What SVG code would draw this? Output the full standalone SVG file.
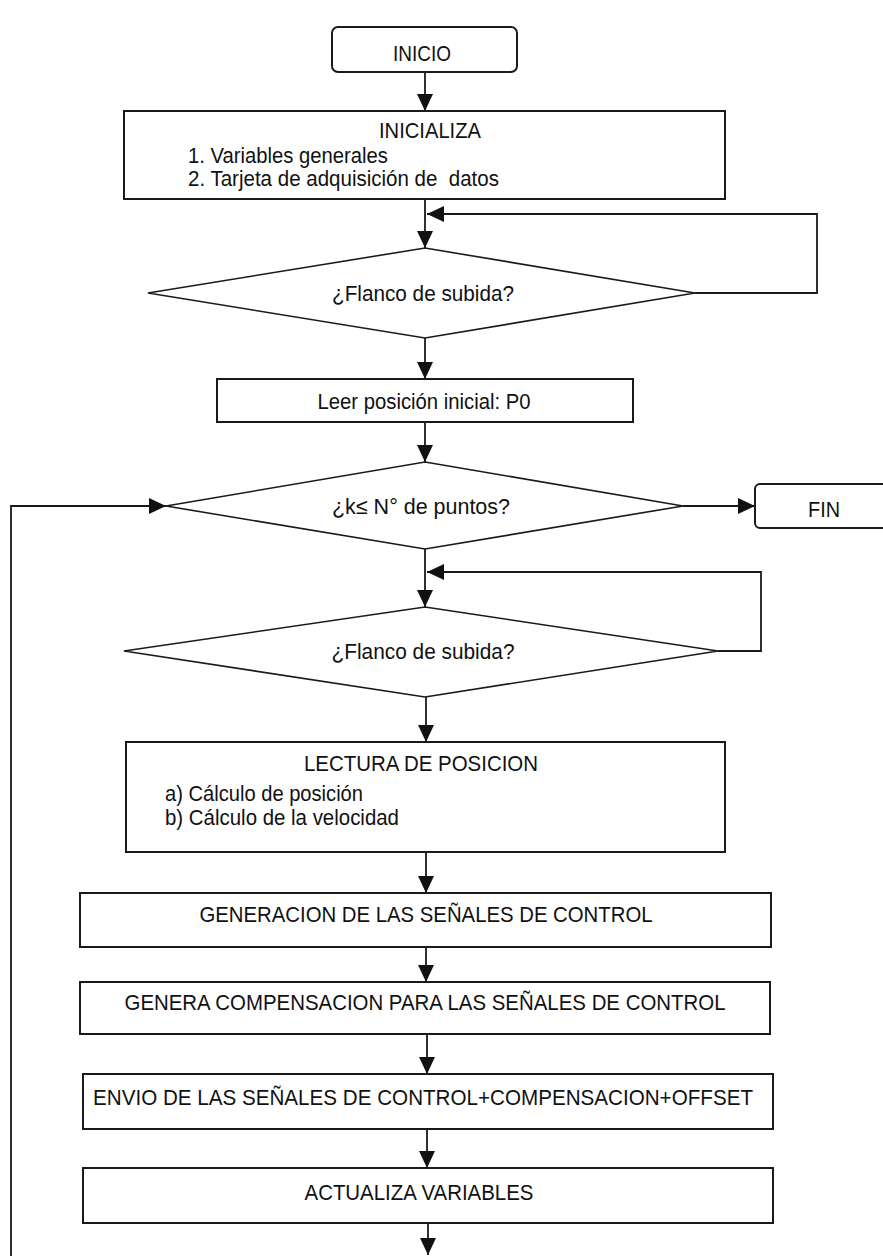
<svg xmlns="http://www.w3.org/2000/svg" width="883" height="1256" viewBox="0 0 883 1256">
<style>
.box{fill:#fff;stroke:#1a1a1a;stroke-width:2}
.dia{fill:#fff;stroke:#1a1a1a;stroke-width:1.6}
.t{font-family:"Liberation Sans",Arial,sans-serif;font-size:22px;fill:#111}
.c{text-anchor:middle}
.con{fill:none;stroke:#1a1a1a;stroke-width:1.8}
</style>
<defs>
<marker id="ah" markerUnits="userSpaceOnUse" markerWidth="18" markerHeight="16" refX="17" refY="8" orient="auto">
<path d="M0,0 L17,8 L0,16 Z" fill="#111"/>
</marker>
</defs>
<rect width="883" height="1256" fill="#fff"/>
<g id="connectors">
<line class="con" x1="425" y1="72" x2="425" y2="111" marker-end="url(#ah)"/>
<line class="con" x1="425" y1="199" x2="425" y2="248" marker-end="url(#ah)"/>
<polyline class="con" points="695,293 817,293 817,214 427,214" marker-end="url(#ah)"/>
<line class="con" x1="425" y1="338" x2="425" y2="379" marker-end="url(#ah)"/>
<line class="con" x1="425" y1="422" x2="425" y2="462" marker-end="url(#ah)"/>
<line class="con" x1="683" y1="506" x2="755" y2="506" marker-end="url(#ah)"/>
<line class="con" x1="425" y1="549" x2="425" y2="607" marker-end="url(#ah)"/>
<polyline class="con" points="718,651 761,651 761,572 427,572" marker-end="url(#ah)"/>
<line class="con" x1="426" y1="697" x2="426" y2="742" marker-end="url(#ah)"/>
<line class="con" x1="426" y1="852" x2="426" y2="893" marker-end="url(#ah)"/>
<line class="con" x1="426" y1="947" x2="426" y2="982" marker-end="url(#ah)"/>
<line class="con" x1="427" y1="1034" x2="427" y2="1074" marker-end="url(#ah)"/>
<line class="con" x1="427" y1="1129" x2="427" y2="1168" marker-end="url(#ah)"/>
<line class="con" x1="428" y1="1223" x2="428" y2="1255" marker-end="url(#ah)"/>
<polyline class="con" points="11,1256 11,506 166,506" marker-end="url(#ah)"/>
</g>
<g id="inicio">
<rect class="box" x="332" y="27" width="185" height="45" rx="6"/>
<text class="t c" x="422" y="61" font-size="25" textLength="58" lengthAdjust="spacingAndGlyphs">INICIO</text>
</g>
<g id="inicializa">
<rect class="box" x="124" y="111" width="601" height="88"/>
<text class="t c" x="430" y="138" textLength="102" lengthAdjust="spacingAndGlyphs">INICIALIZA</text>
<text class="t" x="188" y="163" textLength="200" lengthAdjust="spacingAndGlyphs">1. Variables generales</text>
<text class="t" x="188" y="186" textLength="311" lengthAdjust="spacingAndGlyphs" xml:space="preserve">2. Tarjeta de adquisición de  datos</text>
</g>
<g id="flanco1">
<polygon class="dia" points="425,248 695,293 425,338 148,293"/>
<text class="t c" x="423" y="301" textLength="182" lengthAdjust="spacingAndGlyphs">¿Flanco de subida?</text>
</g>
<g id="leer">
<rect class="box" x="217" y="379" width="416" height="43"/>
<text class="t c" x="424" y="409" textLength="213" lengthAdjust="spacingAndGlyphs">Leer posición inicial: P0</text>
</g>
<g id="puntos">
<polygon class="dia" points="425,462 683,506 425,549 166,506"/>
<text class="t c" x="421" y="514" textLength="178" lengthAdjust="spacingAndGlyphs">¿k≤ N° de puntos?</text>
</g>
<g id="fin">
<rect class="box" x="755" y="484" width="140" height="44" rx="5"/>
<text class="t c" x="824" y="517" font-size="24" textLength="32" lengthAdjust="spacingAndGlyphs">FIN</text>
</g>
<g id="flanco2">
<polygon class="dia" points="425,607 718,651 425,697 124,651"/>
<text class="t c" x="423" y="659" textLength="183" lengthAdjust="spacingAndGlyphs">¿Flanco de subida?</text>
</g>
<g id="lectura">
<rect class="box" x="126" y="742" width="599" height="110"/>
<text class="t c" x="421" y="771" font-size="23" textLength="234" lengthAdjust="spacingAndGlyphs">LECTURA DE POSICION</text>
<text class="t" x="165" y="801" textLength="198" lengthAdjust="spacingAndGlyphs">a) Cálculo de posición</text>
<text class="t" x="165" y="825" textLength="234" lengthAdjust="spacingAndGlyphs">b) Cálculo de la velocidad</text>
</g>
<g id="generacion">
<rect class="box" x="80" y="893" width="691" height="54"/>
<text class="t c" x="426" y="922" textLength="453" lengthAdjust="spacingAndGlyphs">GENERACION DE LAS SEÑALES DE CONTROL</text>
</g>
<g id="compensacion">
<rect class="box" x="80" y="982" width="690" height="52"/>
<text class="t c" x="425" y="1010" textLength="601" lengthAdjust="spacingAndGlyphs">GENERA COMPENSACION PARA LAS SEÑALES DE CONTROL</text>
</g>
<g id="envio">
<rect class="box" x="83" y="1074" width="690" height="55"/>
<text class="t c" x="423" y="1105" textLength="660" lengthAdjust="spacingAndGlyphs">ENVIO DE LAS SEÑALES DE CONTROL+COMPENSACION+OFFSET</text>
</g>
<g id="actualiza">
<rect class="box" x="83" y="1168" width="690" height="55"/>
<text class="t c" x="419" y="1200" textLength="229" lengthAdjust="spacingAndGlyphs">ACTUALIZA VARIABLES</text>
</g>
</svg>
